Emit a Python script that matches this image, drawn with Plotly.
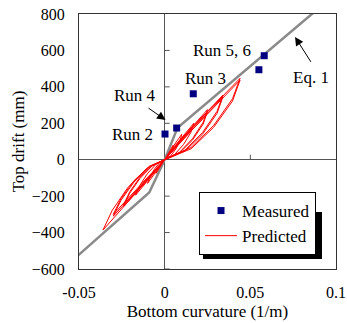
import plotly.graph_objects as go

# ---- data ----
meas_curv = [0.0002, 0.0070, 0.0167, 0.0550, 0.0581]
meas_drift = [141, 174, 362, 494, 571]

eq1_curv = [-0.0518, -0.0090, 0.0, 0.0075, 0.0887]
eq1_drift = [-536, -180, 0, 175, 822]

pred_curv = [
    0, 0.00165, 0.00335, 0.005, 0.0045, 0.00325, 0.00175, 0,
    -0.00165, -0.00335, -0.005, -0.00425, -0.003, -0.0015, 0,
    0.0033, 0.0067, 0.010, 0.009, 0.0065, 0.0035, 0,
    -0.0033, -0.0067, -0.010, -0.0085, -0.006, -0.003, 0,
    0.0056, 0.0114, 0.017, 0.0153, 0.01105, 0.00595, 0,
    -0.0056, -0.0114, -0.017, -0.01445, -0.0102, -0.0051, 0,
    0.00825, 0.01675, 0.025, 0.0225, 0.01625, 0.00875, 0,
    -0.0079, -0.0161, -0.024, -0.0204, -0.0144, -0.0072, 0,
    0.00825, 0.01675, 0.025, 0.0225, 0.01625, 0.00875, 0,
    -0.0079, -0.0161, -0.024, -0.0204, -0.0144, -0.0072, 0,
    0.0112, 0.0228, 0.034, 0.0306, 0.0221, 0.0119, 0,
    -0.0099, -0.0201, -0.030, -0.0255, -0.018, -0.009, 0,
    0.0112, 0.0228, 0.034, 0.0306, 0.0221, 0.0119, 0,
    -0.0099, -0.0201, -0.030, -0.0255, -0.018, -0.009, 0,
    0.0145, 0.0295, 0.044, 0.0396, 0.0286, 0.0154, 0,
    -0.0119, -0.0241, -0.036, -0.0306, -0.0216, -0.0108, 0,
    0.0145, 0.0295, 0.044, 0.0396, 0.0286, 0.0154, 0,
]
pred_drift = [
    0, 28.8, 55.2, 80, 60, 33.6, 12, 0,
    -25.5, -51, -75, -54, -30, -9.75, 0,
    50.4, 96.6, 140, 105, 58.8, 21, 0,
    -44.2, -88.4, -130, -93.6, -52, -16.9, 0,
    72, 138, 200, 150, 84, 30, 0,
    -66.3, -132.6, -195, -140.4, -78, -25.35, 0,
    99, 189.75, 275, 206.25, 115.5, 41.25, 0,
    -87, -174, -256, -184.3, -102.4, -33.3, 0,
    90, 178, 265, 196, 108, 38, 0,
    -80, -166, -248, -176, -96, -30, 0,
    127.8, 245, 355, 266, 149, 53, 0,
    -105, -211, -310, -223, -124, -40, 0,
    116, 232, 345, 255, 140, 48, 0,
    -96, -200, -300, -214, -116, -36, 0,
    161, 308, 447, 335, 188, 67, 0,
    -131, -262, -386, -278, -154, -50, 0,
    148, 294, 437, 322, 178, 60, 0,
]

x_ticks = [-0.05, 0, 0.05, 0.1]
x_tick_text = ["-0.05", "0", "0.05", "0.1"]
y_ticks = [-600, -400, -200, 0, 200, 400, 600, 800]

FONT = "Liberation Serif"

fig = go.Figure()
fig.add_trace(go.Scatter(x=eq1_curv, y=eq1_drift, mode="lines",
                         line=dict(color="#8a8a8a", width=2.5), showlegend=False,
                         hoverinfo="skip"))
fig.add_trace(go.Scatter(x=pred_curv, y=pred_drift, mode="lines", name="Predicted",
                         line=dict(color="#ff0000", width=1)))
fig.add_trace(go.Scatter(x=meas_curv, y=meas_drift, mode="markers", name="Measured",
                         marker=dict(symbol="square", color="#000080", size=7)))

fig.update_layout(legend_traceorder="reversed")

shapes = []
for v in [-600, -400, -200, 200, 400, 600]:
    shapes.append(dict(type="line", xref="x", yref="y", xsizemode="pixel", xanchor=0,
                       x0=0, x1=5, y0=v, y1=v, line=dict(color="#555", width=1)))
for v in [0.05]:
    shapes.append(dict(type="line", xref="x", yref="y", ysizemode="pixel", yanchor=0,
                       x0=v, x1=v, y0=0, y1=5, line=dict(color="#555", width=1)))
# legend shadow
shapes.append(dict(type="rect", xref="paper", yref="paper", x0=0.4825, x1=0.9455,
                   y0=0.039, y1=0.2235, fillcolor="black", line=dict(width=0), layer="above"))

annotations = [
    dict(x=-0.0173, y=355, text="Run 4", showarrow=False),
    dict(x=-0.019, y=136, text="Run 2", showarrow=False),
    dict(x=0.0238, y=446, text="Run 3", showarrow=False),
    dict(x=0.0332, y=600, text="Run 5, 6", showarrow=False),
    dict(x=0.0855, y=451, text="Eq. 1", showarrow=False),
    dict(x=0.0005, y=218, ax=-0.0103, ay=289, axref="x", ayref="y", text="",
         showarrow=True, arrowhead=2, arrowsize=1.7, arrowwidth=1, arrowcolor="black"),
    dict(x=0.0761, y=674, ax=0.0859, ay=529, axref="x", ayref="y", text="",
         showarrow=True, arrowhead=2, arrowsize=1.7, arrowwidth=1, arrowcolor="black"),
]
for a in annotations:
    a["xref"] = "x"
    a["yref"] = "y"
    a["font"] = dict(family=FONT, size=17, color="black")

fig.update_layout(
    width=347, height=323,
    margin=dict(l=79, r=11, t=14, b=54, autoexpand=False),
    paper_bgcolor="white", plot_bgcolor="white",
    font=dict(family=FONT, size=16, color="black"),
    shapes=shapes, annotations=annotations,
    showlegend=True,
    legend=dict(x=0.467, y=0.0549, xanchor="left", yanchor="bottom",
                bgcolor="white", bordercolor="black", borderwidth=1,
                font=dict(family=FONT, size=17, color="black"),
                itemwidth=32, tracegroupgap=0),
    xaxis=dict(range=[-0.05, 0.1], tickvals=x_ticks, ticktext=x_tick_text,
               showgrid=False, zeroline=True, zerolinecolor="#555", zerolinewidth=1,
               showline=True, mirror=True, linecolor="#333", linewidth=1,
               ticks="", ticklabelstandoff=9, automargin=False,
               tickfont=dict(family=FONT, size=16),
               title=dict(text="Bottom curvature (1/m)", standoff=4,
                          font=dict(family=FONT, size=17))),
    yaxis=dict(range=[-600, 800], tickvals=y_ticks,
               showgrid=False, zeroline=True, zerolinecolor="#555", zerolinewidth=1,
               showline=True, mirror=True, linecolor="#333", linewidth=1,
               ticks="", ticklabelstandoff=10, automargin=False,
               tickfont=dict(family=FONT, size=16),
               title=dict(text="Top drift (mm)", standoff=2,
                          font=dict(family=FONT, size=17))),
)

fig.write_html("out.html")
